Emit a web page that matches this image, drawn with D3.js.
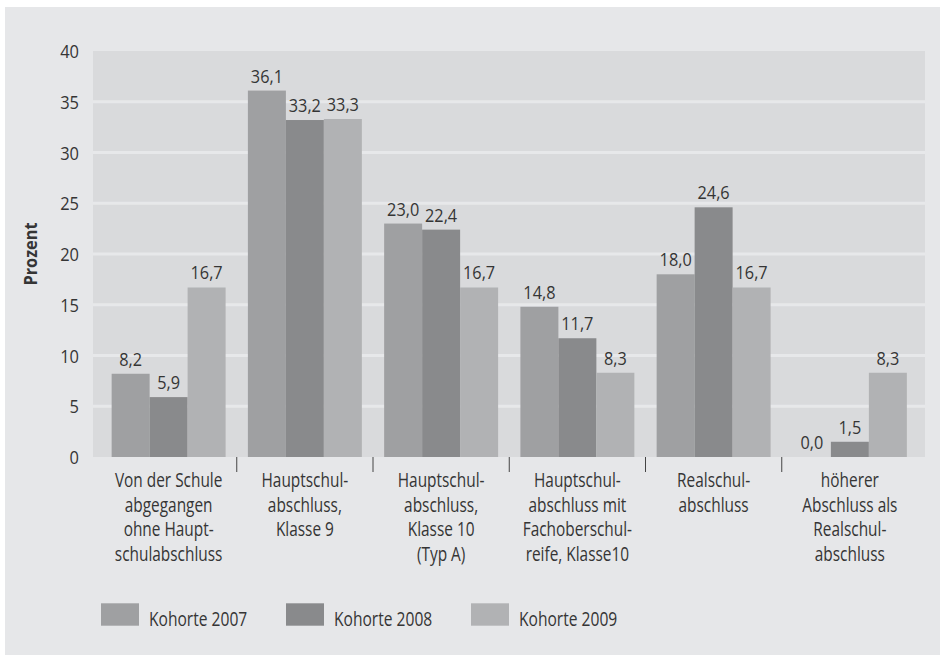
<!DOCTYPE html>
<html>
<head>
<meta charset="utf-8">
<script src="https://cdn.jsdelivr.net/npm/d3@7"></script>
<style>
  html, body { margin: 0; padding: 0; background: #ffffff; }
  svg { display: block; }
  text { font-family: "Open Sans", "Noto Sans", sans-serif; fill: #353535; }
</style>
</head>
<body>
<svg id="chart" width="940" height="655"></svg>
<script>
const categories = [
  ["Von der Schule", "abgegangen", "ohne Haupt-", "schulabschluss"],
  ["Hauptschul-", "abschluss,", "Klasse 9"],
  ["Hauptschul-", "abschluss,", "Klasse 10", "(Typ A)"],
  ["Hauptschul-", "abschluss mit", "Fachoberschul-", "reife, Klasse10"],
  ["Realschul-", "abschluss"],
  ["höherer", "Abschluss als", "Realschul-", "abschluss"]
];
const seriesNames = ["Kohorte 2007", "Kohorte 2008", "Kohorte 2009"];
const kohorte2007 = [8.2, 36.1, 23.0, 14.8, 18.0, 0.0];
const kohorte2008 = [5.9, 33.2, 22.4, 11.7, 24.6, 1.5];
const kohorte2009 = [16.7, 33.3, 16.7, 8.3, 16.7, 8.3];
const yTicks = [0, 5, 10, 15, 20, 25, 30, 35, 40];
const yTitle = "Prozent";

const seriesValues = [kohorte2007, kohorte2008, kohorte2009];
const colors = ["#9fa0a2", "#898a8c", "#b1b2b4"];

const svg = d3.select("#chart");
const fmt = v => v.toFixed(1).replace(".", ",");

// outer panel
svg.append("rect").attr("x", 5).attr("y", 7).attr("width", 935).attr("height", 648).attr("fill", "#e6e7e9");

const catIdx = categories.map((c, i) => i);
const x0 = d3.scaleBand().domain(catIdx).range([100.5, 918]);
const inset = 11.15;
const x1 = d3.scaleBand().domain(d3.range(seriesNames.length)).range([inset, x0.bandwidth() - inset]);
const y = d3.scaleLinear().domain([0, 40]).range([457, 51]);

// plot background
svg.append("rect").attr("x", 93).attr("y", y(40)).attr("width", 925 - 93).attr("height", y(0) - y(40)).attr("fill", "#d9dadc");

// gridlines
svg.append("g").selectAll("line").data(yTicks.filter(t => t > 0 && t < 40)).join("line")
  .attr("x1", 93).attr("x2", 925).attr("y1", d => y(d)).attr("y2", d => y(d))
  .attr("stroke", "#e7e8ea").attr("stroke-width", 3);

// y axis labels
const yAxis = d3.axisLeft(y).tickValues(yTicks).tickSize(0).tickPadding(0).tickFormat(d3.format("d"));
const ya = svg.append("g").attr("transform", "translate(79,0)").call(yAxis);
ya.select(".domain").remove();
ya.selectAll("text")
  .style("font-family", "'Open Sans', sans-serif").style("font-size", "18.5px")
  .attr("fill", "#353535").attr("x", 0).attr("dy", "0.36em")
  .attr("transform", "scale(0.89,1)");

// y title
svg.append("text").attr("transform", "translate(37,254) rotate(-90) scale(0.88,1)").attr("text-anchor", "middle")
  .style("font-size", "18.5px").style("font-weight", "bold").text(yTitle);

// bars
const groups = svg.append("g").selectAll("g").data(catIdx).join("g")
  .attr("transform", i => `translate(${x0(i)},0)`);
groups.selectAll("rect").data(i => seriesValues.map((s, k) => ({k, v: s[i]}))).join("rect")
  .attr("x", d => x1(d.k)).attr("width", x1.bandwidth())
  .attr("y", d => y(d.v)).attr("height", d => y(0) - y(d.v))
  .attr("fill", d => colors[d.k]);
groups.selectAll("text.val").data(i => seriesValues.map((s, k) => ({k, v: s[i]}))).join("text")
  .attr("class", "val")
  .attr("transform", d => `translate(${x1(d.k) + x1.bandwidth() / 2},${y(d.v) - 8}) scale(0.88,1)`)
  .attr("text-anchor", "middle").style("font-size", "18.5px").text(d => fmt(d.v));

// x axis ticks between categories
const xAxis = d3.axisBottom(x0).tickSize(0).tickFormat("");
const xa = svg.append("g").attr("transform", `translate(0,${y(0)})`).call(xAxis);
xa.select(".domain").remove();
svg.append("g").selectAll("line").data(catIdx.slice(1)).join("line")
  .attr("x1", i => x0(i)).attr("x2", i => x0(i))
  .attr("y1", y(0)).attr("y2", y(0) + 15)
  .attr("stroke", "#444").attr("stroke-width", 1);

// category labels
const catG = svg.append("g").selectAll("text").data(catIdx).join("text")
  .attr("text-anchor", "middle").style("font-size", "19.5px")
  .attr("transform", i => `translate(${x0(i) + x0.bandwidth() / 2},487.3) scale(0.79,1)`);
catG.selectAll("tspan").data(i => categories[i]).join("tspan")
  .attr("x", 0).attr("y", (d, j) => j * 24.6).text(d => d);

// legend
const legendX = [101, 286, 471];
const lg = svg.append("g").selectAll("g").data(seriesNames).join("g")
  .attr("transform", (d, i) => `translate(${legendX[i]},603.3)`);
lg.append("rect").attr("width", 38).attr("height", 22.4).attr("fill", (d, i) => colors[i]);
lg.append("text").attr("transform", "translate(48,22.4) scale(0.8,1)").style("font-size", "19.5px").text(d => d);
</script>
</body>
</html>
